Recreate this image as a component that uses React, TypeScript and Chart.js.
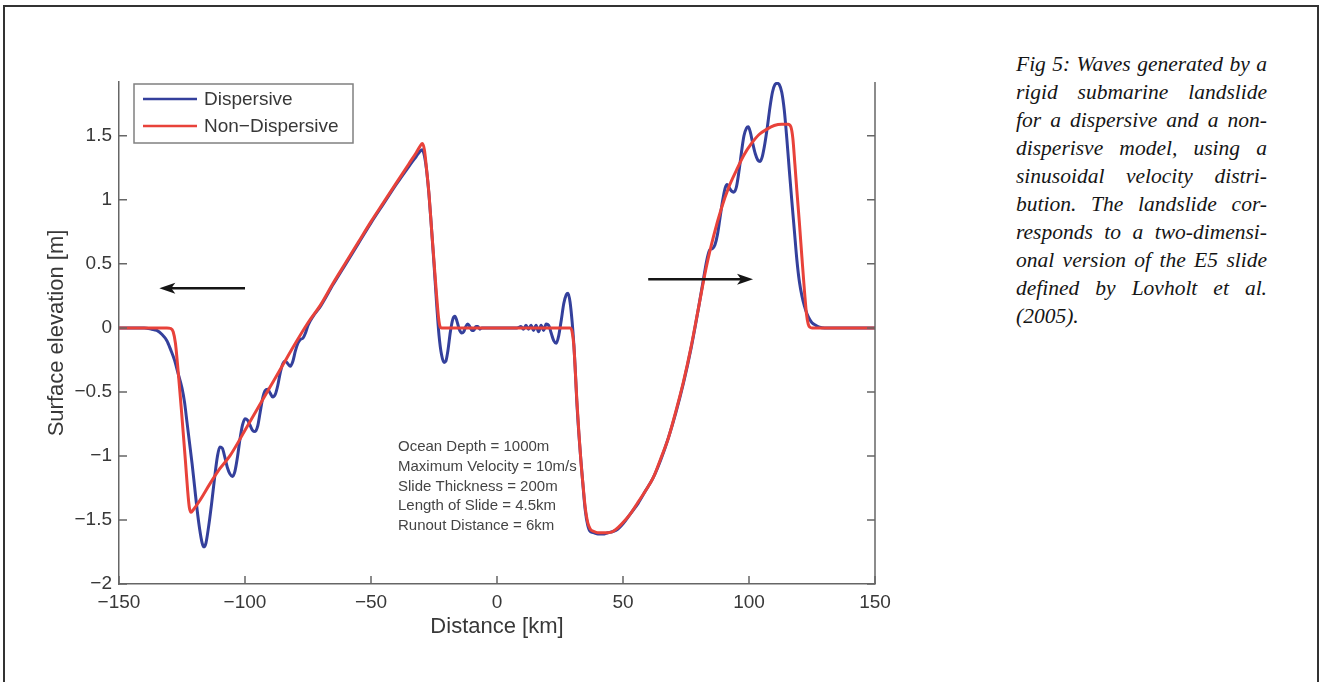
import React, { useEffect, useRef } from 'react';
import { Chart, registerables } from 'chart.js';

Chart.register(...registerables);

// ---------- data ----------
const X_TICKS = [-150, -100, -50, 0, 50, 100, 150];
const Y_TICKS = [-2, -1.5, -1, -0.5, 0, 0.5, 1, 1.5];
const X_MIN = -150;
const X_MAX = 150;
const Y_MIN = -2;
const Y_MAX = 1.92;

const SERIES_LABELS = ['Dispersive', 'Non\u2212Dispersive'];

const X_DISP = [
  -150, -140, -137, -135, -133, -131, -129.5, -128, -126.5, -125, -124, -123, -122, -121, -120, -119, -118, -117,
  -116.3, -115.5, -114.5, -113.3, -112, -111, -110, -109, -108, -107, -106, -105, -104, -103, -102, -101, -100,
  -99, -98, -97, -96, -95, -94, -93, -92, -91, -90, -89, -88, -87, -86, -85, -84, -83, -82, -81, -80, -79, -78,
  -77, -76, -75, -73, -70, -65, -60, -55, -50, -45, -40, -35, -32, -30.5, -29.8, -29, -28, -27, -26, -25, -24,
  -23, -22, -21, -20.3, -19.5, -18.5, -17.5, -16.7, -16, -15, -14, -13.2, -12.4, -11.6, -10.8, -10, -9.2, -8.4,
  -7.6, -6.8, -6, 8, 9.5, 10.5, 11.5, 12.5, 13.5, 14.5, 15.5, 16.5, 17.5, 18.5, 19.5, 20.5, 21.5, 22.5, 23.5,
  24.5, 25.5, 26.5, 27.5, 28.2, 29, 29.8, 30.5, 31, 31.6, 32.6, 33.4, 34.2, 35, 36, 37, 38.5, 40, 42, 44, 46, 48,
  50, 53, 56, 59, 62, 65, 68, 71, 74, 77, 80, 82, 83.5, 84.5, 85.5, 86.5, 87.5, 88.5, 89.5, 90.5, 91.3, 92, 93,
  94, 95, 96, 97, 98, 99, 99.7, 100.5, 101.5, 102.5, 103.5, 104.4, 105.3, 106.3, 107.3, 108.3, 109.3, 110.3,
  111.2, 112, 113, 114, 115, 116, 117, 118, 119, 120, 121, 122, 123, 124, 125, 126.5, 128, 130, 150,
];
const Y_DISP = [
  0, 0, -0.01, -0.02, -0.05, -0.1, -0.17, -0.25, -0.36, -0.47, -0.58, -0.74, -0.9, -1.06, -1.24, -1.42, -1.57, -1.68,
  -1.71, -1.68, -1.56, -1.38, -1.16, -1.01, -0.93, -0.94, -1.01, -1.09, -1.14, -1.16, -1.12, -1.01, -0.87, -0.76, -0.71,
  -0.72, -0.76, -0.8, -0.81, -0.77, -0.66, -0.55, -0.49, -0.48, -0.51, -0.54, -0.52, -0.45, -0.35, -0.28, -0.26, -0.28, -0.3, -0.26, -0.18, -0.12, -0.09,
  -0.08, -0.04, 0.02, 0.09, 0.17, 0.34, 0.5, 0.66, 0.82, 0.97, 1.12, 1.26, 1.34, 1.38, 1.39, 1.36, 1.24, 1.04, 0.78, 0.5, 0.2,
  -0.06, -0.21, -0.27, -0.26, -0.18, -0.03, 0.07, 0.09, 0.06, -0.01, -0.04, -0.03, 0.01, 0.03, 0.01, -0.02, -0.02, 0.01,
  0.01, -0.01, 0, 0, 0.01, -0.01, 0.02, -0.01, 0.02, -0.02, 0.02, -0.03, 0.02, -0.02, 0.03, 0.02, -0.04, -0.1, -0.12,
  -0.06, 0.06, 0.19, 0.26, 0.27, 0.2, 0.05, -0.13, -0.3, -0.55, -0.86, -1.06, -1.25, -1.42, -1.54, -1.59, -1.6, -1.61, -1.61, -1.6, -1.59, -1.57,
  -1.53, -1.45, -1.37, -1.27, -1.17, -1.03, -0.86, -0.66, -0.43, -0.16, 0.16, 0.39, 0.55, 0.61, 0.62, 0.65, 0.73, 0.86, 0.99, 1.09, 1.12, 1.1, 1.07,
  1.06, 1.1, 1.22, 1.37, 1.5, 1.56, 1.57, 1.53, 1.44, 1.36, 1.31, 1.3, 1.34, 1.44, 1.57, 1.72, 1.84, 1.9,
  1.91, 1.9, 1.84, 1.7, 1.48, 1.23, 0.99, 0.76, 0.53, 0.36, 0.25, 0.17, 0.11, 0.07, 0.04, 0.02, 0.005, 0, 0,
];

const X_NONDISP = [
  -150, -131, -129.5, -128.5, -127.6, -126.8, -126, -125.2, -124.4, -123.6, -122.8, -122.1, -121.4, -120.5, -118,
  -114, -110, -106, -100, -95, -90, -85, -80, -75, -70, -65, -60, -55, -50, -45, -40, -35, -32, -30.5, -29.6, -28.8,
  -28, -27, -26, -25, -24, -23.2, -22.6, -22, 29, 29.8, 30.5, 31.1, 31.7, 32.5, 33.3, 34.2, 35, 36, 37, 38.5, 40,
  42, 44, 46, 48, 50, 53, 56, 59, 62, 65, 68, 71, 74, 77, 80, 83, 86, 89, 92, 95, 98, 101, 104, 107, 110, 113,
  115.5, 116.6, 117.4, 118.2, 119, 120, 121, 122, 122.8, 123.5, 124.2, 125, 150,
];
const Y_NONDISP = [
  0, 0, -0.005, -0.03, -0.12, -0.28, -0.46, -0.65, -0.85, -1.05, -1.26, -1.4, -1.44, -1.42, -1.35,
  -1.22, -1.1, -1.0, -0.8, -0.63, -0.46, -0.29, -0.12, 0.04, 0.18, 0.35, 0.51, 0.67, 0.83, 0.98, 1.13, 1.28, 1.37, 1.42, 1.44, 1.39,
  1.25, 1.05, 0.78, 0.52, 0.26, 0.08, 0.01, 0, 0, -0.03, -0.14, -0.35, -0.57, -0.82, -1.04, -1.24, -1.4, -1.52, -1.57, -1.59, -1.6,
  -1.6, -1.6, -1.59, -1.56, -1.52, -1.45, -1.36, -1.27, -1.17, -1.02, -0.86, -0.65, -0.42, -0.15, 0.16, 0.47, 0.72, 0.93, 1.1, 1.23, 1.35, 1.44, 1.51, 1.55, 1.58, 1.59,
  1.59, 1.57, 1.48, 1.28, 1.07, 0.82, 0.55, 0.29, 0.11, 0.03, 0.005, 0, 0,
];

// annotations (data coordinates)
const ANNOT_LINES = [
  'Ocean Depth = 1000m',
  'Maximum Velocity = 10m/s',
  'Slide Thickness = 200m',
  'Length of Slide = 4.5km',
  'Runout Distance = 6km',
];
const ANNOT_ANCHOR = { x: -39.3, y: -0.93 };
const ARROWS = [
  { x0: -100, x1: -134, y: 0.31 },
  { x0: 60, x1: 101.6, y: 0.38 },
];

const CAPTION_LINES = [
  'Fig 5: Waves generated by a',
  'rigid submarine landslide',
  'for a dispersive and a non-',
  'disperisve model, using a',
  'sinusoidal velocity distri-',
  'bution. The landslide cor-',
  'responds to a two-dimensi-',
  'onal version of the E5 slide',
  'defined by Lovholt et al.',
  '(2005).',
];

// ---------- styles ----------
const BLUE = '#34409c';
const RED = '#e8423a';
const AXIS_COLOR = '#666666';
const TEXT_COLOR = '#383838';
const SANS = "'Liberation Sans', Arial, Helvetica, sans-serif";

const fmt = (v: number) => (v < 0 ? '\u2212' + String(Math.abs(v)) : String(v));

const overlayPlugin = {
  id: 'overlay',
  afterDraw(chart: any) {
    const { ctx, chartArea: ca } = chart;
    const xs = chart.scales.x;
    const ys = chart.scales.y;
    ctx.save();

    // right axis line
    ctx.strokeStyle = AXIS_COLOR;
    ctx.lineWidth = 1.5;
    ctx.beginPath();
    ctx.moveTo(ca.right, ca.top);
    ctx.lineTo(ca.right, ca.bottom);
    ctx.stroke();

    // inward ticks
    const TL = 8;
    ctx.beginPath();
    Y_TICKS.forEach((v) => {
      const py = ys.getPixelForValue(v);
      ctx.moveTo(ca.left, py);
      ctx.lineTo(ca.left + TL, py);
      ctx.moveTo(ca.right, py);
      ctx.lineTo(ca.right - TL, py);
    });
    X_TICKS.forEach((v) => {
      const px = xs.getPixelForValue(v);
      ctx.moveTo(px, ca.bottom);
      ctx.lineTo(px, ca.bottom - TL);
    });
    ctx.stroke();

    // arrows
    ctx.strokeStyle = '#151515';
    ctx.fillStyle = '#151515';
    ctx.lineWidth = 2.6;
    ARROWS.forEach((a) => {
      const p0 = xs.getPixelForValue(a.x0);
      const p1 = xs.getPixelForValue(a.x1);
      const py = ys.getPixelForValue(a.y);
      const d = Math.sign(p1 - p0);
      ctx.beginPath();
      ctx.moveTo(p0, py);
      ctx.lineTo(p1 - d * 8, py);
      ctx.stroke();
      ctx.beginPath();
      ctx.moveTo(p1, py);
      ctx.lineTo(p1 - d * 16, py - 5.5);
      ctx.lineTo(p1 - d * 12, py);
      ctx.lineTo(p1 - d * 16, py + 5.5);
      ctx.closePath();
      ctx.fill();
    });

    // annotation text
    ctx.fillStyle = '#444444';
    ctx.font = `15px ${SANS}`;
    ctx.textAlign = 'left';
    ctx.textBaseline = 'middle';
    const ax = xs.getPixelForValue(ANNOT_ANCHOR.x);
    const ay = ys.getPixelForValue(ANNOT_ANCHOR.y);
    ANNOT_LINES.forEach((t, i) => ctx.fillText(t, ax, ay + i * 19.7));

    // legend
    const lx = ca.left + 15;
    const ly = ca.top + 2;
    ctx.fillStyle = '#ffffff';
    ctx.fillRect(lx, ly, 219, 59);
    ctx.strokeStyle = '#808080';
    ctx.lineWidth = 1.5;
    ctx.strokeRect(lx, ly, 219, 59);
    ctx.font = `19px ${SANS}`;
    ctx.fillStyle = TEXT_COLOR;
    chart.data.datasets.forEach((ds: any, i: number) => {
      const yy = ly + 15 + i * 27;
      ctx.strokeStyle = ds.borderColor;
      ctx.lineWidth = 2.5;
      ctx.beginPath();
      ctx.moveTo(lx + 9, yy);
      ctx.lineTo(lx + 63, yy);
      ctx.stroke();
      ctx.fillText(ds.label, lx + 70, yy + 1);
    });

    ctx.restore();
  },
};

export default function App() {
  const ref = useRef<HTMLCanvasElement>(null);

  useEffect(() => {
    const tickFont = { family: SANS, size: 19 };
    const titleFont = { family: SANS, size: 22 };
    const chart = new Chart(ref.current as HTMLCanvasElement, {
      type: 'line',
      data: {
        datasets: [
          {
            label: SERIES_LABELS[0],
            data: X_DISP.map((x, i) => ({ x, y: Y_DISP[i] })),
            borderColor: BLUE,
            backgroundColor: BLUE,
            borderWidth: 3,
            pointRadius: 0,
            cubicInterpolationMode: 'monotone',
            fill: false,
            order: 1,
          },
          {
            label: SERIES_LABELS[1],
            data: X_NONDISP.map((x, i) => ({ x, y: Y_NONDISP[i] })),
            borderColor: RED,
            backgroundColor: RED,
            borderWidth: 3,
            pointRadius: 0,
            cubicInterpolationMode: 'monotone',
            fill: false,
            order: 0,
          },
        ],
      },
      options: {
        animation: false,
        responsive: false,
        events: [],
        layout: { padding: { top: 82, right: 25, left: 0, bottom: 0 }, autoPadding: false },
        plugins: { legend: { display: false }, tooltip: { enabled: false } },
        scales: {
          x: {
            type: 'linear',
            min: X_MIN,
            max: X_MAX,
            afterBuildTicks: (s: any) => {
              s.ticks = X_TICKS.map((v) => ({ value: v }));
            },
            afterFit: (s: any) => {
              s.height = 98;
            },
            grid: { display: false, drawTicks: false, tickLength: 0 },
            border: { display: true, color: AXIS_COLOR, width: 1.5 },
            ticks: {
              font: tickFont,
              color: TEXT_COLOR,
              padding: 7,
              maxRotation: 0,
              autoSkip: false,
              callback: (v: any) => fmt(Number(v)),
            },
            title: {
              display: true,
              text: 'Distance [km]',
              font: titleFont,
              color: TEXT_COLOR,
              padding: { top: 0, bottom: 42 },
            },
          },
          y: {
            type: 'linear',
            min: Y_MIN,
            max: Y_MAX,
            afterBuildTicks: (s: any) => {
              s.ticks = Y_TICKS.map((v) => ({ value: v }));
            },
            afterFit: (s: any) => {
              s.width = 119;
            },
            grid: { display: false, drawTicks: false, tickLength: 0 },
            border: { display: true, color: AXIS_COLOR, width: 1.5 },
            ticks: {
              font: tickFont,
              color: TEXT_COLOR,
              padding: 7,
              autoSkip: false,
              callback: (v: any) => fmt(Number(v)),
            },
            title: {
              display: true,
              text: 'Surface elevation [m]',
              font: titleFont,
              color: TEXT_COLOR,
              padding: { top: 44, bottom: 0 },
            },
          },
        },
      } as any,
      plugins: [overlayPlugin],
    });
    return () => chart.destroy();
  }, []);

  return (
    <div
      style={{
        position: 'fixed',
        left: 0,
        top: 0,
        width: 1319,
        height: 682,
        overflow: 'hidden',
        background: '#ffffff',
      }}
    >
      <div
        style={{
          position: 'absolute',
          left: 3,
          top: 5,
          width: 1316,
          height: 720,
          boxSizing: 'border-box',
          borderLeft: '2px solid #333',
          borderTop: '2px solid #333',
          borderRight: '2px solid #333',
        }}
      />
      <canvas
        ref={ref}
        width={900}
        height={682}
        style={{ position: 'absolute', left: 0, top: 0, width: 900, height: 682 }}
      />
      <div
        style={{
          position: 'absolute',
          left: 1016,
          top: 50,
          width: 251,
          fontFamily: "'Liberation Serif', 'Times New Roman', serif",
          fontStyle: 'italic',
          fontSize: 21.5,
          lineHeight: '28px',
          color: '#151515',
        }}
      >
        {CAPTION_LINES.map((line, i) => (
          <div
            key={i}
            style={{
              textAlign: 'justify',
              textAlignLast: i === CAPTION_LINES.length - 1 ? 'left' : 'justify',
              height: 28,
            }}
          >
            {line}
          </div>
        ))}
      </div>
    </div>
  );
}
